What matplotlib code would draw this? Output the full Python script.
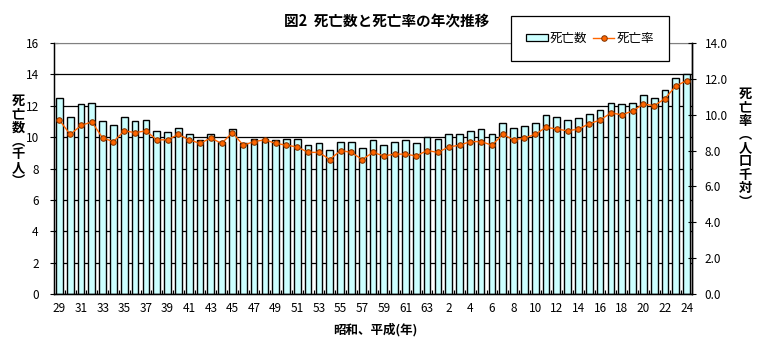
import matplotlib
matplotlib.use("Agg")
import matplotlib.pyplot as plt
from matplotlib.patches import Patch
from matplotlib.lines import Line2D

plt.rcParams["font.family"] = ["Noto Sans CJK JP", "DejaVu Sans"]

# 昭和29年〜昭和63年, 平成元年〜平成24年
years = [str(y) for y in range(29, 64)] + [str(y) for y in range(1, 25)]

# 死亡数（千人）
deaths = [12.5, 11.3, 12.1, 12.2, 11.0, 10.8, 11.3, 11.0, 11.1, 10.4,
          10.3, 10.6, 10.2, 9.8, 10.2, 9.7, 10.5, 9.6, 9.9, 9.9,
          9.8, 9.9, 9.9, 9.5, 9.6, 9.2, 9.7, 9.7, 9.3, 9.8,
          9.5, 9.7, 9.8, 9.6, 10.0, 9.9, 10.2, 10.2, 10.4, 10.5,
          10.2, 10.9, 10.6, 10.7, 10.9, 11.4, 11.3, 11.1, 11.2, 11.5,
          11.7, 12.2, 12.1, 12.2, 12.7, 12.5, 13.0, 13.8, 14.0]

# 死亡率（人口千対）
rates = [9.7, 8.9, 9.4, 9.6, 8.7, 8.5, 9.1, 9.0, 9.1, 8.6,
         8.6, 8.9, 8.6, 8.4, 8.7, 8.4, 9.0, 8.3, 8.5, 8.6,
         8.4, 8.3, 8.2, 7.9, 7.9, 7.5, 8.0, 7.9, 7.5, 7.9,
         7.7, 7.8, 7.8, 7.7, 8.0, 7.9, 8.2, 8.3, 8.5, 8.5,
         8.3, 8.9, 8.6, 8.7, 8.9, 9.3, 9.2, 9.1, 9.2, 9.5,
         9.7, 10.1, 10.0, 10.2, 10.6, 10.5, 10.9, 11.6, 11.9]

x = list(range(len(years)))

fig = plt.figure(figsize=(7.58, 3.5), dpi=100)
ax = fig.add_axes([54 / 758, 56 / 350, 638 / 758, 251 / 350])

ax.set_axisbelow(True)
ax.bar(x, deaths, width=0.62, color="#ccffff", edgecolor="black",
       linewidth=1.0, zorder=2)
ax.set_xlim(-0.5, len(years) - 0.5)
ax.set_ylim(0, 16)
ax.set_yticks(range(0, 17, 2))
ax.yaxis.grid(True, color="black", linewidth=0.9, zorder=0)
ax.get_ygridlines()[-1].set_color("#808080")

ax.set_xticks(x[::2])
ax.set_xticklabels(years[::2])
ax.set_xticks([i + 0.5 for i in x[:-1]], minor=True)
ax.tick_params(axis="x", which="major", length=0, pad=6, labelsize=8.5)
ax.tick_params(axis="x", which="minor", direction="in", length=3, width=0.8)
ax.tick_params(axis="y", direction="inout", length=6, width=0.8,
               pad=8, labelsize=8.5)

ax.spines["top"].set_color("#808080")
for s in ("left", "bottom", "right"):
    ax.spines[s].set_linewidth(1.0)

ax2 = ax.twinx()
ax2.plot(x, rates, color="#ff6600", linewidth=1.0, marker="o",
         markersize=4, markerfacecolor="#ff6600",
         markeredgecolor="#7f3300", markeredgewidth=0.7, zorder=3)
ax2.set_ylim(0, 14)
ax2.set_yticks(range(0, 15, 2))
ax2.set_yticklabels([f"{v:.1f}" for v in range(0, 15, 2)])
ax2.tick_params(axis="y", direction="inout", length=6, width=0.8,
                pad=6, labelsize=8.5)
ax2.spines["top"].set_visible(False)
ax2.spines["right"].set_linewidth(1.0)

fig.text(387 / 758, 1 - 21 / 350, "図2  死亡数と死亡率の年次推移",
         ha="center", va="center", fontsize=10.5, fontweight="bold")
fig.text(375 / 758, 1 - 330 / 350, "昭和、平成(年)",
         ha="center", va="center", fontsize=9, fontweight="bold")

left_label = "死亡数︵千人︶"
right_label = "死亡率︵人口千対︶"
fig.text(18 / 758, 1 - 141 / 350, "\n".join(left_label), ha="center",
         va="center", fontsize=9.5, fontweight="bold", linespacing=0.95)
fig.text(745 / 758, 1 - 148 / 350, "\n".join(right_label), ha="center",
         va="center", fontsize=9.5, fontweight="bold", linespacing=0.95)

handles = [
    Patch(facecolor="#ccffff", edgecolor="black", linewidth=0.9),
    Line2D([], [], color="#ff6600", linewidth=1.0, marker="o", markersize=4,
           markerfacecolor="#ff6600", markeredgecolor="#7f3300",
           markeredgewidth=0.7),
]
leg = fig.legend(handles, ["死亡数", "死亡率"], ncol=2, loc="center",
                 bbox_to_anchor=(518 / 758, 1 - 62 / 350, 144 / 758, 47 / 350),
                 frameon=True, fancybox=False, edgecolor="black",
                 framealpha=1, fontsize=9, handlelength=1.7,
                 handleheight=0.4, handletextpad=0.15, columnspacing=0.5,
                 borderpad=1.25, borderaxespad=0)
leg.get_frame().set_linewidth(0.9)

fig.savefig("out.png", dpi=100)
